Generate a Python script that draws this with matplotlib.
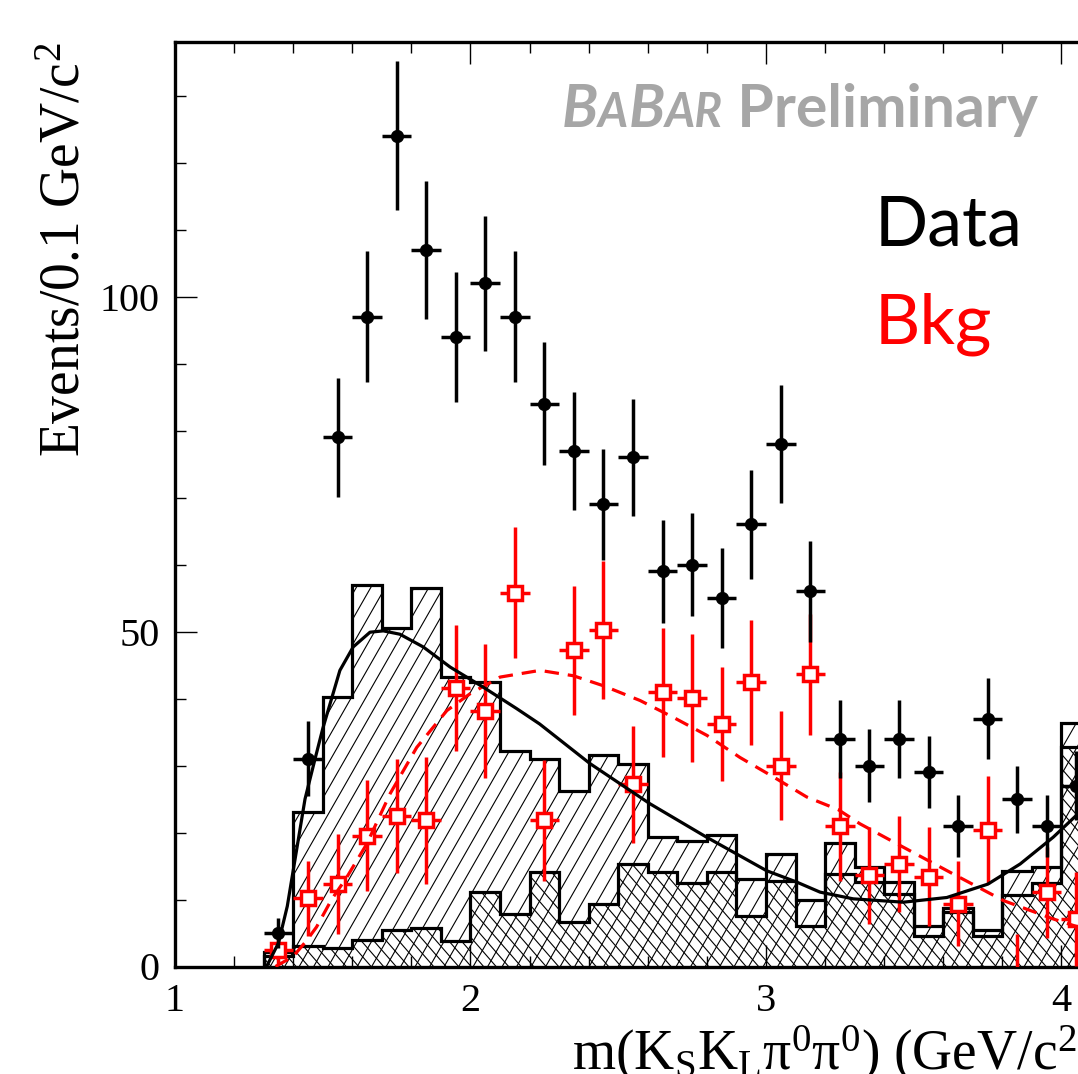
import numpy as np
import matplotlib
matplotlib.use("Agg")
import matplotlib.pyplot as plt
from matplotlib.collections import LineCollection
from matplotlib.ticker import MultipleLocator
from matplotlib.offsetbox import TextArea, HPacker, AnchoredOffsetbox

plt.rcParams["font.family"] = ["Liberation Serif", "DejaVu Serif"]
plt.rcParams["mathtext.fontset"] = "custom"
plt.rcParams["mathtext.rm"] = "Liberation Serif"
plt.rcParams["mathtext.it"] = "Liberation Serif:italic"

# ── data: 0.1 GeV/c^2 bins ───────────────────────────────────────
bin_edges = np.round(np.arange(1.3, 4.1001, 0.1), 2)
bin_centers = np.round(np.arange(1.35, 4.06, 0.1), 2)

data_counts = [5, 31, 79, 97, 124, 107, 94, 102, 97, 84, 77, 69, 76, 59,
               60, 55, 66, 78, 56, 34, 30, 34, 29, 21, 37, 25, 21, 27]
data_err = [2.2, 5.6, 8.9, 9.8, 11.1, 10.3, 9.7, 10.1, 9.8, 9.2, 8.8, 8.3,
            8.7, 7.7, 7.7, 7.4, 8.1, 8.8, 7.5, 5.8, 5.5, 5.8, 5.4, 4.6,
            6.1, 5.0, 4.6, 5.2]

bkg_counts = [2.4, 10.2, 12.3, 19.5, 22.4, 21.8, 41.6, 38.2, 55.8, 21.8,
              47.2, 50.3, 27.2, 40.9, 40.1, 36.2, 42.4, 30.0, 43.6, 20.9,
              13.6, 15.3, 13.4, 9.4, 20.4, -2.0, 11.1, 7.1]
bkg_err = [2.2, 5.6, 7.5, 8.3, 8.5, 9.5, 9.4, 10.0, 9.8, 9.0, 9.6, 10.3,
           8.7, 9.7, 9.6, 8.5, 9.3, 8.2, 9.0, 8.2, 7.2, 7.2, 7.4, 6.4,
           8.1, 6.9, 6.8, 7.0]

# simulated signal (outer, "///") and its low component (inner, "\\\")
mc_total = [2.1, 23.0, 40.3, 56.9, 50.5, 56.5, 43.2, 42.4, 32.2, 30.9,
            26.2, 31.5, 30.3, 19.3, 18.8, 19.7, 13.1, 16.8, 10.0, 18.4,
            14.9, 12.6, 6.0, 8.8, 5.5, 14.3, 14.9, 36.4]
mc_part = [1.5, 3.1, 2.8, 4.0, 5.4, 5.7, 3.8, 11.1, 7.9, 14.1, 6.6, 9.4,
           15.3, 14.1, 12.4, 14.1, 7.6, 12.8, 6.1, 13.8, 12.6, 10.8, 4.6,
           8.1, 4.5, 10.6, 12.4, 32.7]

# fitted shapes
fit_x = [1.31, 1.35, 1.38, 1.41, 1.44, 1.474, 1.50, 1.558, 1.603, 1.66,
         1.705, 1.761, 1.84, 1.931, 2.043, 2.156, 2.234, 2.404, 2.607,
         2.799, 3.002, 3.104, 3.183, 3.295, 3.465, 3.612, 3.751, 3.86,
         3.972, 4.056, 4.10]
fit_y = [0.0, 3.5, 9.0, 17.0, 25.0, 31.0, 35.5, 44.2, 47.7, 49.9, 50.1,
         49.6, 47.7, 44.7, 41.7, 38.5, 36.2, 30.3, 24.3, 19.3, 14.3, 12.6,
         11.1, 10.1, 9.6, 10.3, 12.3, 15.3, 19.3, 22.8, 25.0]

bkg_fit_x = [1.34, 1.40, 1.446, 1.479, 1.53, 1.581, 1.649, 1.728, 1.818,
             1.92, 1.998, 2.10, 2.235, 2.348, 2.45, 2.574, 2.686, 2.80,
             2.912, 3.025, 3.138, 3.245, 3.318, 3.465, 3.634, 3.803, 3.972,
             4.056, 4.10]
bkg_fit_y = [0.0, 1.5, 3.9, 5.9, 10.0, 13.3, 18.3, 25.8, 32.7, 38.2, 40.7,
             43.2, 44.2, 43.4, 41.9, 39.7, 37.2, 34.5, 31.2, 28.3, 25.3,
             23.4, 21.3, 17.8, 13.8, 9.85, 7.1, 5.9, 5.3]

RED = "#ff0000"
GRAY = "#a6a6a6"

fig = plt.figure(figsize=(10.78, 10.74), dpi=100)
W, H = 1078.0, 1074.0
ax_w_px = 3.4 * 295.5
ax = fig.add_axes([175 / W, 1 - 966.5 / H, ax_w_px / W, 924.5 / H])
ax.set_xlim(1.0, 4.4)
ax.set_ylim(0, 138)


def hatch_lines(ax, clip_patch, slope, step_px, lw=0.8, zorder=1):
    """Straight hatch lines (pixel slope, pixel spacing) clipped to a patch."""
    x0, y0 = ax.transData.transform((1.0, 0.0))
    x1, y1 = ax.transData.transform((4.4, 138.0))
    hpx = y1 - y0
    run = hpx / slope
    lo, hi = (x0 - abs(run), x1 + abs(run))
    segs = []
    for c in np.arange(lo, hi, step_px):
        p = np.array([[c, y0], [c + run, y1]])
        segs.append(ax.transData.inverted().transform(p))
    lc = LineCollection(segs, colors="k", linewidths=lw, zorder=zorder)
    ax.add_collection(lc)
    lc.set_clip_path(clip_patch)
    return lc


outer = ax.stairs(mc_total, bin_edges, baseline=0, fill=False,
                  edgecolor="k", linewidth=2.3, zorder=2)
inner = ax.stairs(mc_part, bin_edges, baseline=0, fill=False,
                  edgecolor="k", linewidth=2.3, zorder=2)
hatch_lines(ax, outer, slope=1.75, step_px=14.5)
hatch_lines(ax, inner, slope=-1.15, step_px=12.5)

# background points (open squares)
ax.errorbar(bin_centers, bkg_counts, yerr=bkg_err, xerr=0.05, fmt="s",
            color=RED, mfc="white", mec=RED, ms=10.5, mew=2.5,
            elinewidth=2.5, capsize=0, zorder=4)
# data points
ax.errorbar(bin_centers, data_counts, yerr=data_err, xerr=0.05, fmt="o",
            color="k", ms=8.5, elinewidth=2.5, capsize=0, zorder=5)

ax.plot(bkg_fit_x, bkg_fit_y, color=RED, lw=2.3, ls=(0, (4.5, 2.8)),
        zorder=6)
ax.plot(fit_x, fit_y, color="k", lw=2.3, zorder=6)

# axes styling
for side in ("left", "bottom", "top", "right"):
    ax.spines[side].set_linewidth(2.4)
ax.xaxis.set_major_locator(MultipleLocator(1))
ax.xaxis.set_minor_locator(MultipleLocator(0.2))
ax.yaxis.set_major_locator(MultipleLocator(50))
ax.yaxis.set_minor_locator(MultipleLocator(10))
ax.tick_params(which="both", direction="in", top=True, right=True,
               width=1.0, labelsize=29)
ax.tick_params(which="major", length=16)
ax.tick_params(which="minor", length=8)
ax.tick_params(axis="y", pad=11)
ax.tick_params(axis="x", pad=12)

ax.set_xlabel("m(K$_\\mathrm{S}$K$_\\mathrm{L}$\u03c0$^0$\u03c0$^0$) (GeV/c$^2$)",
              fontsize=40, ha="left", va="baseline")
ax.xaxis.set_label_coords(572 / W, 1 - 1070 / H, transform=fig.transFigure)
ax.set_ylabel("Events/0.1 GeV/c$^2$", fontsize=40, ha="right",
              va="baseline", rotation_mode="anchor")
ax.yaxis.set_label_coords(80 / W, 1 - 43 / H, transform=fig.transFigure)

# labels inside the frame
fig.text(875 / W, 1 - 246 / H, "Data", family="Lato", size=50.5,
         color="k", ha="left", va="baseline")
fig.text(875 / W, 1 - 344 / H, "Bkg", family="Lato", size=50.5,
         color=RED, ha="left", va="baseline")

big = dict(family="Lato", weight="bold", style="italic", size=42.5, color=GRAY)
small = dict(big, size=33.5)
plain = dict(family="Lato", weight="bold", size=42.5, color=GRAY)
pieces = [TextArea("B", textprops=big), TextArea("A", textprops=small),
          TextArea("B", textprops=big), TextArea("AR", textprops=small),
          TextArea(" Preliminary", textprops=plain)]
babar = HPacker(children=pieces, align="baseline", pad=0, sep=0)
anch = AnchoredOffsetbox(loc="lower left", child=babar, frameon=False,
                         pad=0, borderpad=0,
                         bbox_to_anchor=(562 / W, 1 - 137 / H),
                         bbox_transform=fig.transFigure)
fig.add_artist(anch)

fig.savefig("out.png", dpi=100)
